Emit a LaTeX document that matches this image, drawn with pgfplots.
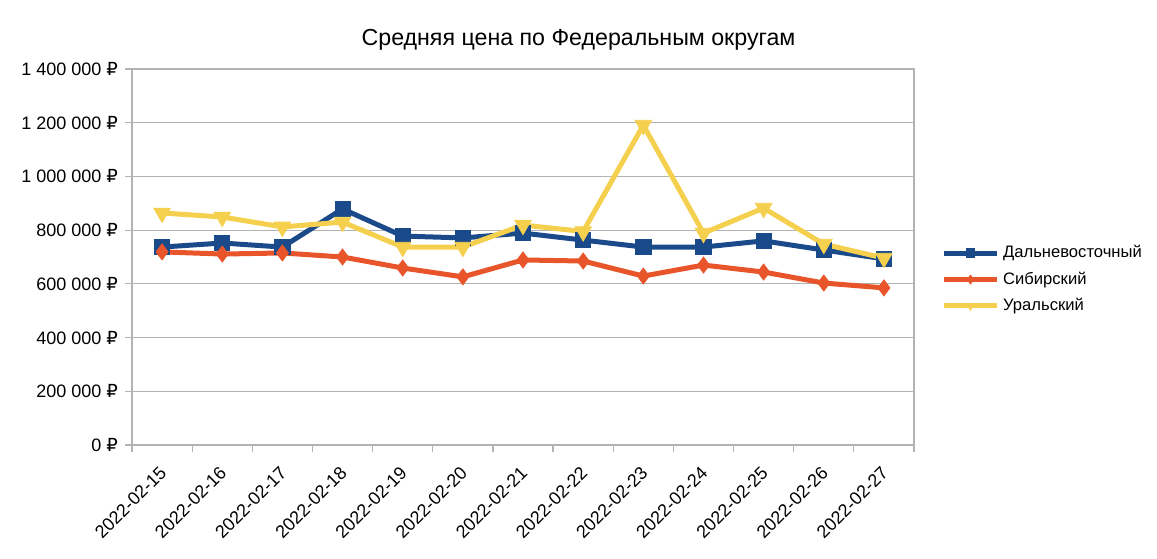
\documentclass[border=0pt]{standalone}
\usepackage{fontspec}
\setmainfont{Liberation Sans}
\newfontfamily\dejavu{DejaVu Sans}
\newcommand\rub{{\dejavu ₽}}
\usepackage{pgfplots}
\pgfplotsset{compat=1.18}
\definecolor{dblue}{HTML}{1B4A8A}
\definecolor{sorange}{HTML}{E8552A}
\definecolor{uyellow}{HTML}{F5D04E}
\definecolor{gridgray}{HTML}{B3B3B3}

\begin{document}
\begin{tikzpicture}
\begin{axis}[
    scale only axis,
    width=391pt, height=188pt,
    xmin=-0.5, xmax=12.5,
    ymin=0, ymax=1400000,
    xtick={0,...,12},
    xticklabels={2022-02-15,2022-02-16,2022-02-17,2022-02-18,2022-02-19,2022-02-20,2022-02-21,2022-02-22,2022-02-23,2022-02-24,2022-02-25,2022-02-26,2022-02-27},
    major x tick style={draw=none},
    minor xtick={-0.5,0.5,...,12.5},
    ytick={0,200000,400000,600000,800000,1000000,1200000,1400000},
    yticklabels={0~\rub,200~000~\rub,400~000~\rub,600~000~\rub,800~000~\rub,1~000~000~\rub,1~200~000~\rub,1~400~000~\rub},
    scaled y ticks=false,
    tick align=outside, tick pos=left,
    major tick length=3.5pt, minor tick length=3.5pt,
    tick style={gridgray, line width=0.6pt},
    ymajorgrids,
    grid style={gridgray, line width=0.6pt},
    axis line style={gridgray, line width=0.6pt},
    tick label style={font=\fontsize{9}{10}\selectfont},
    x tick label style={rotate=45, anchor=north east, xshift=-2.5pt},
    legend style={at={(1.035,0.44)}, anchor=west, draw=none, fill=none,
        inner xsep=0pt, font=\fontsize{8.3}{10}\selectfont, row sep=1.5pt},
    legend cell align=left,
    legend image code/.code={\draw[#1, mark size=2.2pt, mark repeat=2, mark phase=2]
        plot coordinates {(0cm,0cm) (0.46cm,0cm) (0.92cm,0cm)};},
    clip=false,
]
\addplot[dblue, line width=2.5pt, mark=square*, mark size=3.8pt, mark options={line width=0.4pt}] coordinates {
    (0,737000) (1,752000) (2,737000) (3,879000) (4,778000) (5,771000) (6,789000)
    (7,763000) (8,737000) (9,737000) (10,760000) (11,726000) (12,693000)
};
\addlegendentry{Дальневосточный}
\addplot[sorange, line width=2.5pt, mark=diamond*, mark size=4pt, mark options={line width=0.4pt}] coordinates {
    (0,719000) (1,711000) (2,715000) (3,700000) (4,659000) (5,626000) (6,689000)
    (7,685000) (8,629000) (9,670000) (10,644000) (11,603000) (12,585000)
};
\addlegendentry{Сибирский}
\addplot[uyellow, line width=2.5pt, mark=triangle*, mark size=4.8pt, mark options={rotate=180, line width=0.4pt}] coordinates {
    (0,864000) (1,849000) (2,812000) (3,830000) (4,737000) (5,737000) (6,819000)
    (7,795000) (8,1191000) (9,789000) (10,882000) (11,748000) (12,696000)
};
\addlegendentry{Уральский}
\node[font=\fontsize{11.6}{14}\selectfont] at (rel axis cs:0.571,1.077) {Средняя цена по Федеральным округам};
\coordinate (bbl) at (rel axis cs:-0.1688,-0.3005);
\coordinate (btr) at (rel axis cs:1.3107,1.1835);
\end{axis}
\pgfresetboundingbox
\path[use as bounding box] (bbl) rectangle (btr);
\end{tikzpicture}
\end{document}
